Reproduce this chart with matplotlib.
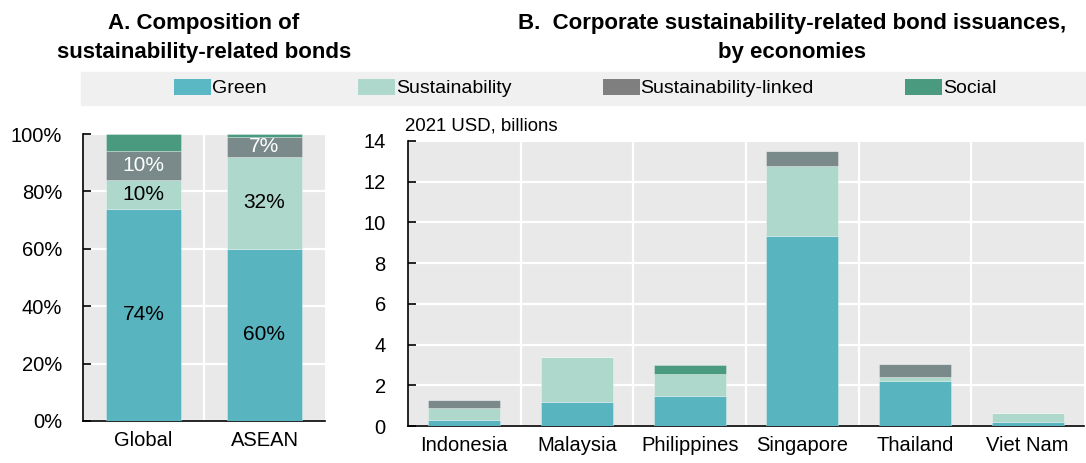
import matplotlib
matplotlib.use("Agg")
import numpy as np
import matplotlib.pyplot as plt
from matplotlib.patches import Rectangle, Patch

plt.rcParams['font.family'] = ['Liberation Sans', 'DejaVu Sans']

# --- data ---
series = ["Green", "Sustainability", "Sustainability-linked", "Social"]

# panel A: share of issuance, %
regions = ["Global", "ASEAN"]
a_green = [74, 60]
a_sust = [10, 32]
a_sll = [10, 7]
a_social = [6, 1]

# panel B: 2021 USD, billions
economies = ["Indonesia", "Malaysia", "Philippines", "Singapore", "Thailand", "Viet Nam"]
b_green = [0.3, 1.2, 1.45, 9.35, 2.2, 0.2]
b_sust = [0.6, 2.2, 1.1, 3.4, 0.2, 0.45]
b_sll = [0.4, 0.0, 0.0, 0.75, 0.65, 0.0]
b_social = [0.0, 0.0, 0.45, 0.0, 0.0, 0.0]

bar_cols = ["#58b5bf", "#aed8cc", "#7a8a8b", "#4a9a80"]
leg_cols = ["#5ab8c4", "#aed8cc", "#7f7f7f", "#4a9a80"]
bg = "#e9e9e9"

W, H = 1086, 463
fig = plt.figure(figsize=(W / 100, H / 100), dpi=100)


def px_axes(x0, y0, x1, y1):
    return fig.add_axes([x0 / W, 1 - y1 / H, (x1 - x0) / W, (y1 - y0) / H])


def style(ax, n, ypad):
    ax.set_facecolor(bg)
    for s in ["top", "right"]:
        ax.spines[s].set_visible(False)
    for s in ["left", "bottom"]:
        ax.spines[s].set_color("black")
        ax.spines[s].set_linewidth(1.2)
    ax.set_xlim(-0.5, n - 0.5)
    ax.set_xticks(np.arange(n))
    ax.set_xticks(np.arange(n - 1) + 0.5, minor=True)
    ax.tick_params(axis="x", which="both", length=0, pad=7, labelsize=14.5)
    ax.tick_params(axis="y", direction="in", length=6, width=1.2, pad=ypad, labelsize=14.5)
    ax.grid(axis="y", color="white", linewidth=1.6)
    ax.grid(axis="x", which="minor", color="white", linewidth=1.6)
    ax.set_axisbelow(True)


def stack(ax, x, layers, width):
    bottom = np.zeros(len(x))
    bars = []
    for vals, c in zip(layers, bar_cols):
        vals = np.asarray(vals, dtype=float)
        b = ax.bar(x, vals, width, bottom=bottom, color=c,
                   edgecolor=(1, 1, 1, 0.35), linewidth=0.6, zorder=3)
        bars.append((b, bottom.copy(), vals))
        bottom += vals
    return bars


# panel A
axA = px_axes(83, 134, 325, 421)
style(axA, len(regions), 15)
xa = np.arange(len(regions))
barsA = stack(axA, xa, [a_green, a_sust, a_sll, a_social], 0.62)
axA.set_ylim(0, 100)
axA.set_yticks(np.arange(0, 101, 20))
axA.set_yticklabels([f"{v}%" for v in range(0, 101, 20)])
axA.set_xticklabels(regions)
for k, (b, bot, vals) in enumerate(barsA[:3]):
    tc = "white" if k == 2 else "black"
    for xi, bo, v in zip(xa, bot, vals):
        axA.text(xi, bo + v / 2, f"{v:.0f}%", ha="center", va="center",
                 fontsize=15, color=tc, zorder=4)

# panel B
axB = px_axes(408, 141, 1084, 426)
style(axB, len(economies), 16)
xb = np.arange(len(economies))
stack(axB, xb, [b_green, b_sust, b_sll, b_social], 0.64)
axB.set_ylim(0, 14)
axB.set_yticks(np.arange(0, 15, 2))
axB.set_xticklabels(economies)
fig.text(405 / W, 1 - 126 / H, "2021 USD, billions", fontsize=13.4, ha="left", va="center")

# titles
fig.text(204 / W, 1 - 38 / H, "A. Composition of\nsustainability-related bonds",
         ha="center", va="center", fontsize=16, fontweight="bold", linespacing=1.45)
fig.text(792 / W, 1 - 38 / H, "B.  Corporate sustainability-related bond issuances,\nby economies",
         ha="center", va="center", fontsize=16, fontweight="bold", linespacing=1.45)

# legend band
fig.patches.append(Rectangle((81 / W, 1 - 105 / H), 1 - 81 / W, 33 / H,
                             transform=fig.transFigure, color="#f0f0f0", zorder=0))
handles = [Patch(facecolor=c, edgecolor="none") for c in leg_cols]
fig.legend(handles, series, ncol=4, loc="center left",
           bbox_to_anchor=(174 / W, 1 - 88 / H), frameon=False, fontsize=14,
           handlelength=1.9, handleheight=0.9, handletextpad=0.05,
           columnspacing=4.7, borderpad=0, borderaxespad=0)

fig.savefig("out.png", dpi=100)
